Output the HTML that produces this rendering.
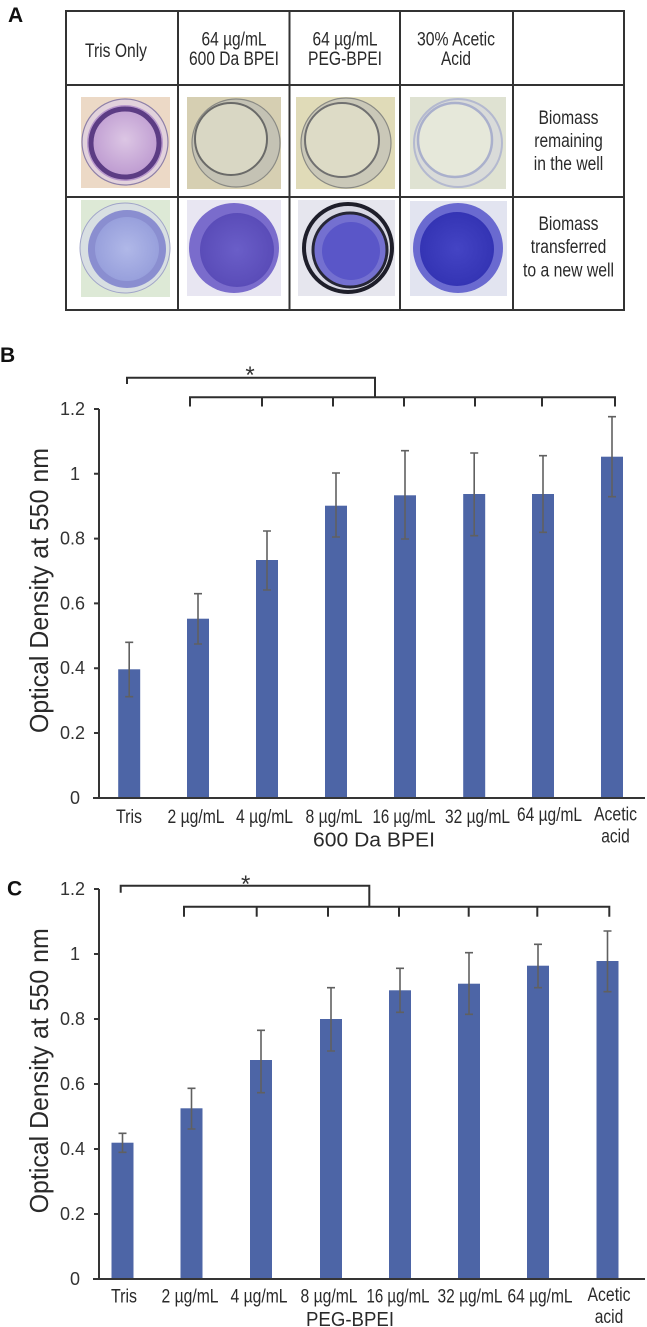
<!DOCTYPE html>
<html><head><meta charset="utf-8"><style>
html,body{margin:0;padding:0;background:#fff;}
svg{display:block;}
.n{font-family:"Liberation Sans Narrow","Liberation Sans",Arial,sans-serif;font-size:19px;fill:#2a2a2a;}
.t{font-family:"Liberation Sans",Arial,sans-serif;font-size:18px;fill:#333;}
.lab{font-family:"Liberation Sans",Arial,sans-serif;font-size:26px;fill:#2a2a2a;}
.pl{font-family:"Liberation Sans",Arial,sans-serif;font-weight:bold;font-size:21px;fill:#111;}
.ax{stroke:#353535;stroke-width:2;fill:none;}
.br{stroke:#2e2e2e;stroke-width:2;fill:none;}
.eb{stroke:#606060;stroke-width:1.6;fill:none;}
.bar{fill:#4d65a6;}
</style></head><body>
<svg width="647" height="1327" viewBox="0 0 647 1327" xmlns="http://www.w3.org/2000/svg">
<defs>
<radialGradient id="g1" cx="0.5" cy="0.45" r="0.5"><stop offset="0" stop-color="#dcc6e4"/><stop offset="1" stop-color="#c09ed2"/></radialGradient>
<radialGradient id="g2" cx="0.5" cy="0.5" r="0.5"><stop offset="0" stop-color="#b0b8e8"/><stop offset="1" stop-color="#98a0dc"/></radialGradient>
<radialGradient id="g3" cx="0.5" cy="0.5" r="0.5"><stop offset="0" stop-color="#6a5ec8"/><stop offset="1" stop-color="#5a4cb8"/></radialGradient>
<radialGradient id="g4" cx="0.5" cy="0.5" r="0.5"><stop offset="0" stop-color="#4444c4"/><stop offset="1" stop-color="#3434b4"/></radialGradient>
</defs>

<!-- Panel A -->
<text class="pl" x="8" y="22">A</text>

<!-- images row 2 -->
<rect x="81" y="97" width="89" height="91" fill="#ecd9c6"/>
<circle cx="125" cy="142" r="43" fill="#e2d2dc" stroke="#8e80a8" stroke-width="1.2"/>
<circle cx="125" cy="143" r="38" fill="#b898cc"/>
<circle cx="125" cy="143" r="34" fill="url(#g1)" stroke="#5c3c84" stroke-width="5"/>

<rect x="187" y="97" width="94" height="92" fill="#d6cfb2"/>
<circle cx="236" cy="143" r="44" fill="#c4c2b4" stroke="#8a8a84" stroke-width="1.2"/>
<circle cx="231" cy="139" r="36" fill="#d9d7c4" stroke="#6a6a68" stroke-width="2"/>

<rect x="296" y="97" width="99" height="92" fill="#e0dbb8"/>
<circle cx="346" cy="143" r="45" fill="#cac8b8" stroke="#8a8a84" stroke-width="1.2"/>
<circle cx="342" cy="140" r="37" fill="#dddbc6" stroke="#707070" stroke-width="2"/>

<rect x="410" y="97" width="96" height="92" fill="#dfe2d2"/>
<circle cx="458" cy="143" r="44" fill="#d9dbd9" stroke="#b4b9cf" stroke-width="2"/>
<circle cx="455" cy="140" r="37" fill="#e6e8da" stroke="#aab0cc" stroke-width="2.5"/>

<!-- images row 3 -->
<rect x="81" y="200" width="89" height="97" fill="#dde9d6"/>
<circle cx="125" cy="248" r="45" fill="#d8dfe2" stroke="#a0a4c8" stroke-width="1"/>
<circle cx="127" cy="249" r="39" fill="#8a8ed0"/>
<circle cx="127" cy="249" r="32" fill="url(#g2)"/>

<rect x="187" y="200" width="94" height="96" fill="#e8e6f2"/>
<circle cx="234" cy="248" r="45" fill="#7a6ccc"/>
<circle cx="237" cy="250" r="37" fill="url(#g3)"/>

<rect x="298" y="200" width="97" height="96" fill="#e6e6ee"/>
<circle cx="348" cy="248" r="44" fill="#d8d8e4" stroke="#1e1e2a" stroke-width="4"/>
<circle cx="350" cy="250" r="37" fill="#7470d0" stroke="#262636" stroke-width="3"/>
<circle cx="351" cy="251" r="29" fill="#5a56c8"/>

<rect x="410" y="201" width="97" height="95" fill="#e2e4f0"/>
<circle cx="458" cy="248" r="45" fill="#6a6ad0"/>
<circle cx="457" cy="249" r="37" fill="url(#g4)"/>

<!-- table grid -->
<rect x="66" y="11" width="558" height="299" fill="none" stroke="#333" stroke-width="2"/>
<line x1="178" y1="11" x2="178" y2="310" stroke="#333" stroke-width="2"/>
<line x1="289.5" y1="11" x2="289.5" y2="310" stroke="#333" stroke-width="2"/>
<line x1="400" y1="11" x2="400" y2="310" stroke="#333" stroke-width="2"/>
<line x1="513" y1="11" x2="513" y2="310" stroke="#333" stroke-width="2"/>
<line x1="66" y1="85" x2="624" y2="85" stroke="#333" stroke-width="2"/>
<line x1="66" y1="197" x2="624" y2="197" stroke="#333" stroke-width="2"/>

<!-- header text -->
<g class="n" text-anchor="middle">
<text x="116" y="57" textLength="62" lengthAdjust="spacingAndGlyphs">Tris Only</text>
<text x="234" y="45.5" textLength="65" lengthAdjust="spacingAndGlyphs">64 µg/mL</text>
<text x="234" y="65" textLength="90" lengthAdjust="spacingAndGlyphs">600 Da BPEI</text>
<text x="345" y="45.5" textLength="65" lengthAdjust="spacingAndGlyphs">64 µg/mL</text>
<text x="345" y="65" textLength="74" lengthAdjust="spacingAndGlyphs">PEG-BPEI</text>
<text x="456" y="45.5" textLength="78" lengthAdjust="spacingAndGlyphs">30% Acetic</text>
<text x="456" y="65" textLength="30" lengthAdjust="spacingAndGlyphs">Acid</text>
<text x="568.5" y="124" textLength="60" lengthAdjust="spacingAndGlyphs">Biomass</text>
<text x="568.5" y="147" textLength="68.5" lengthAdjust="spacingAndGlyphs">remaining</text>
<text x="568.5" y="170" textLength="69.5" lengthAdjust="spacingAndGlyphs">in the well</text>
<text x="568.5" y="230" textLength="60" lengthAdjust="spacingAndGlyphs">Biomass</text>
<text x="568.5" y="253" textLength="75.5" lengthAdjust="spacingAndGlyphs">transferred</text>
<text x="568.5" y="276.5" textLength="91" lengthAdjust="spacingAndGlyphs">to a new well</text>
</g>

<!-- Panel B -->
<text class="pl" x="0" y="362">B</text>
<text x="250" y="383" font-family="Liberation Sans, Arial, sans-serif" font-size="24" fill="#333" text-anchor="middle">*</text>
<polyline class="br" points="127,384 127,377.7 375,377.7 375,397.3"/>
<polyline class="br" points="190,406.5 190,397.3 615,397.3 615,406.5"/>
<g class="br">
<line x1="262" y1="397.3" x2="262" y2="406.5"/>
<line x1="333" y1="397.3" x2="333" y2="406.5"/>
<line x1="404" y1="397.3" x2="404" y2="406.5"/>
<line x1="475" y1="397.3" x2="475" y2="406.5"/>
<line x1="542" y1="397.3" x2="542" y2="406.5"/>
</g>
<g class="bar">
<rect x="118.2" y="669.3" width="22" height="128.7"/>
<rect x="187" y="618.7" width="22" height="179.3"/>
<rect x="256" y="560" width="22" height="238"/>
<rect x="325" y="505.7" width="22" height="292.3"/>
<rect x="394" y="495.3" width="22" height="302.7"/>
<rect x="463.2" y="494" width="22" height="304"/>
<rect x="532" y="494" width="22" height="304"/>
<rect x="601" y="456.7" width="22" height="341.3"/>
</g>
<g class="eb">
<path d="M129.2 642.3V696.7M125.2 642.3H133.2M125.2 696.7H133.2"/>
<path d="M198 593.7V644M194 593.7H202M194 644H202"/>
<path d="M267 531V590M263 531H271M263 590H271"/>
<path d="M336 473V537M332 473H340M332 537H340"/>
<path d="M405 450.7V539M401 450.7H409M401 539H409"/>
<path d="M474.2 453V535.7M470.2 453H478.2M470.2 535.7H478.2"/>
<path d="M543 455.7V532.3M539 455.7H547M539 532.3H547"/>
<path d="M612 416.7V496.7M608 416.7H616M608 496.7H616"/>
</g>
<path class="ax" d="M99 409V798M93 798H645"/>
<g class="ax" stroke-width="1.6">
<path d="M94 409H99M94 473.8H99M94 538.6H99M94 603.4H99M94 668.2H99M94 733H99"/>
</g>
<g class="t" text-anchor="end">
<text x="85" y="415">1.2</text>
<text x="80" y="479.8">1</text>
<text x="85" y="544.6">0.8</text>
<text x="85" y="609.4">0.6</text>
<text x="85" y="674.2">0.4</text>
<text x="85" y="739">0.2</text>
<text x="80" y="804">0</text>
</g>
<text class="lab" transform="translate(48,590.5) rotate(-90)" text-anchor="middle" textLength="285" lengthAdjust="spacingAndGlyphs">Optical Density at 550 nm</text>
<g class="n" text-anchor="middle">
<text x="129" y="823" textLength="26" lengthAdjust="spacingAndGlyphs">Tris</text>
<text x="196" y="823" textLength="57" lengthAdjust="spacingAndGlyphs">2 µg/mL</text>
<text x="264.5" y="823" textLength="57" lengthAdjust="spacingAndGlyphs">4 µg/mL</text>
<text x="334" y="823" textLength="57" lengthAdjust="spacingAndGlyphs">8 µg/mL</text>
<text x="404" y="823" textLength="63" lengthAdjust="spacingAndGlyphs">16 µg/mL</text>
<text x="477.5" y="823" textLength="65" lengthAdjust="spacingAndGlyphs">32 µg/mL</text>
<text x="549.5" y="821" textLength="65" lengthAdjust="spacingAndGlyphs">64 µg/mL</text>
<text x="615.5" y="820.5" textLength="43" lengthAdjust="spacingAndGlyphs">Acetic</text>
<text x="615.5" y="842.5" textLength="28.5" lengthAdjust="spacingAndGlyphs">acid</text>
</g>
<text x="374" y="846.7" font-family="Liberation Sans, Arial, sans-serif" font-size="20" fill="#2a2a2a" text-anchor="middle" textLength="122" lengthAdjust="spacingAndGlyphs">600 Da BPEI</text>

<!-- Panel C -->
<text class="pl" x="7" y="895.5">C</text>
<text x="245.7" y="892" font-family="Liberation Sans, Arial, sans-serif" font-size="24" fill="#333" text-anchor="middle">*</text>
<polyline class="br" points="120.7,892.7 120.7,885.7 369.3,885.7 369.3,906.7"/>
<polyline class="br" points="184,916.7 184,906.7 609.3,906.7 609.3,916.7"/>
<g class="br">
<line x1="256.7" y1="906.7" x2="256.7" y2="916.7"/>
<line x1="328" y1="906.7" x2="328" y2="916.7"/>
<line x1="399" y1="906.7" x2="399" y2="916.7"/>
<line x1="468.7" y1="906.7" x2="468.7" y2="916.7"/>
<line x1="537.3" y1="906.7" x2="537.3" y2="916.7"/>
</g>
<g class="bar">
<rect x="111.5" y="1142.7" width="22" height="136.3"/>
<rect x="180.5" y="1108.3" width="22" height="170.7"/>
<rect x="250" y="1060" width="22" height="219"/>
<rect x="320" y="1019" width="22" height="260"/>
<rect x="389" y="990.3" width="22" height="288.7"/>
<rect x="458" y="983.7" width="22" height="295.3"/>
<rect x="527" y="965.7" width="22" height="313.3"/>
<rect x="596.5" y="961" width="22" height="318"/>
</g>
<g class="eb">
<path d="M122.5 1133.3V1152.3M118.5 1133.3H126.5M118.5 1152.3H126.5"/>
<path d="M191.5 1088.3V1129M187.5 1088.3H195.5M187.5 1129H195.5"/>
<path d="M261 1030.3V1092.7M257 1030.3H265M257 1092.7H265"/>
<path d="M331 987.7V1051M327 987.7H335M327 1051H335"/>
<path d="M400 968.3V1012.3M396 968.3H404M396 1012.3H404"/>
<path d="M469 952.7V1014.3M465 952.7H473M465 1014.3H473"/>
<path d="M538 944.3V987.7M534 944.3H542M534 987.7H542"/>
<path d="M607.5 931V991.7M603.5 931H611.5M603.5 991.7H611.5"/>
</g>
<path class="ax" d="M99 889V1279M93 1279H645"/>
<g class="ax" stroke-width="1.6">
<path d="M94 889H99M94 954H99M94 1019H99M94 1084H99M94 1149H99M94 1214H99"/>
</g>
<g class="t" text-anchor="end">
<text x="85" y="895">1.2</text>
<text x="80" y="960">1</text>
<text x="85" y="1025">0.8</text>
<text x="85" y="1090">0.6</text>
<text x="85" y="1155">0.4</text>
<text x="85" y="1220">0.2</text>
<text x="80" y="1285">0</text>
</g>
<text class="lab" transform="translate(48,1070.8) rotate(-90)" text-anchor="middle" textLength="285" lengthAdjust="spacingAndGlyphs">Optical Density at 550 nm</text>
<g class="n" text-anchor="middle">
<text x="124" y="1302.3" textLength="26" lengthAdjust="spacingAndGlyphs">Tris</text>
<text x="190" y="1302.3" textLength="57" lengthAdjust="spacingAndGlyphs">2 µg/mL</text>
<text x="259" y="1302.3" textLength="57" lengthAdjust="spacingAndGlyphs">4 µg/mL</text>
<text x="329" y="1302.3" textLength="57" lengthAdjust="spacingAndGlyphs">8 µg/mL</text>
<text x="398" y="1302.3" textLength="63" lengthAdjust="spacingAndGlyphs">16 µg/mL</text>
<text x="470" y="1302.3" textLength="65" lengthAdjust="spacingAndGlyphs">32 µg/mL</text>
<text x="540" y="1302.3" textLength="65" lengthAdjust="spacingAndGlyphs">64 µg/mL</text>
<text x="609" y="1301" textLength="43" lengthAdjust="spacingAndGlyphs">Acetic</text>
<text x="609" y="1323" textLength="28.5" lengthAdjust="spacingAndGlyphs">acid</text>
</g>
<text x="350" y="1326" font-family="Liberation Sans, Arial, sans-serif" font-size="20" fill="#2a2a2a" text-anchor="middle" textLength="88" lengthAdjust="spacingAndGlyphs">PEG-BPEI</text>
</svg>
</body></html>
